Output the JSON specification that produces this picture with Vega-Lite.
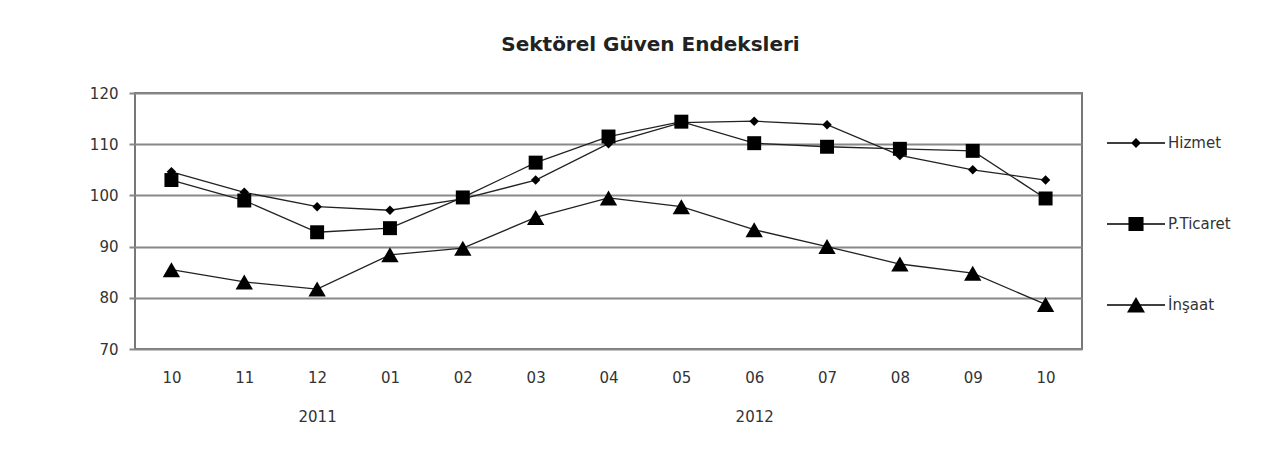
{
  "$schema": "https://vega.github.io/schema/vega-lite/v6.json",
  "autosize": {"type": "none"},
  "padding": {"left": 135, "top": 93, "right": 205, "bottom": 110},
  "width": 947,
  "height": 256,
  "background": "white",
  "title": {
    "text": "Sektörel Güven Endeksleri",
    "font": "DejaVu Sans",
    "fontSize": 20,
    "fontWeight": "bold",
    "color": "#222",
    "anchor": "middle",
    "dx": 42,
    "offset": 31
  },
  "config": {
    "view": {"stroke": "#777", "strokeWidth": 2},
    "font": "DejaVu Sans"
  },
  "data": {
    "values": [
      {"period": "10/2011", "series": "Hizmet", "value": 104.6},
      {"period": "11/2011", "series": "Hizmet", "value": 100.6},
      {"period": "12/2011", "series": "Hizmet", "value": 97.8},
      {"period": "01/2012", "series": "Hizmet", "value": 97.1},
      {"period": "02/2012", "series": "Hizmet", "value": 99.3},
      {"period": "03/2012", "series": "Hizmet", "value": 103.0},
      {"period": "04/2012", "series": "Hizmet", "value": 110.1},
      {"period": "05/2012", "series": "Hizmet", "value": 114.2},
      {"period": "06/2012", "series": "Hizmet", "value": 114.5},
      {"period": "07/2012", "series": "Hizmet", "value": 113.8},
      {"period": "08/2012", "series": "Hizmet", "value": 107.8},
      {"period": "09/2012", "series": "Hizmet", "value": 105.0},
      {"period": "10/2012", "series": "Hizmet", "value": 103.0},
      {"period": "10/2011", "series": "P.Ticaret", "value": 103.0},
      {"period": "11/2011", "series": "P.Ticaret", "value": 99.0},
      {"period": "12/2011", "series": "P.Ticaret", "value": 92.8},
      {"period": "01/2012", "series": "P.Ticaret", "value": 93.6},
      {"period": "02/2012", "series": "P.Ticaret", "value": 99.6},
      {"period": "03/2012", "series": "P.Ticaret", "value": 106.4},
      {"period": "04/2012", "series": "P.Ticaret", "value": 111.5},
      {"period": "05/2012", "series": "P.Ticaret", "value": 114.4},
      {"period": "06/2012", "series": "P.Ticaret", "value": 110.2},
      {"period": "07/2012", "series": "P.Ticaret", "value": 109.5},
      {"period": "08/2012", "series": "P.Ticaret", "value": 109.1},
      {"period": "09/2012", "series": "P.Ticaret", "value": 108.7},
      {"period": "10/2012", "series": "P.Ticaret", "value": 99.4},
      {"period": "10/2011", "series": "İnşaat", "value": 85.5},
      {"period": "11/2011", "series": "İnşaat", "value": 83.1},
      {"period": "12/2011", "series": "İnşaat", "value": 81.7},
      {"period": "01/2012", "series": "İnşaat", "value": 88.4},
      {"period": "02/2012", "series": "İnşaat", "value": 89.7},
      {"period": "03/2012", "series": "İnşaat", "value": 95.7},
      {"period": "04/2012", "series": "İnşaat", "value": 99.5},
      {"period": "05/2012", "series": "İnşaat", "value": 97.8},
      {"period": "06/2012", "series": "İnşaat", "value": 93.3},
      {"period": "07/2012", "series": "İnşaat", "value": 90.0},
      {"period": "08/2012", "series": "İnşaat", "value": 86.6},
      {"period": "09/2012", "series": "İnşaat", "value": 84.8},
      {"period": "10/2012", "series": "İnşaat", "value": 78.7}
    ]
  },
  "encoding": {
    "x": {
      "field": "period",
      "type": "ordinal",
      "sort": null,
      "scale": {"type": "point", "padding": 0.5},
      "axis": {
        "title": null,
        "domain": false,
        "ticks": false,
        "grid": false,
        "labelAngle": 0,
        "labelPadding": 21,
        "labelFontSize": 15,
        "labelColor": "#333",
        "labelLineHeight": 39,
        "labelExpr": "datum.value == '12/2011' ? [split(datum.value,'/')[0], '2011'] : datum.value == '06/2012' ? [split(datum.value,'/')[0], '2012'] : split(datum.value,'/')[0]"
      }
    },
    "y": {
      "field": "value",
      "type": "quantitative",
      "scale": {"domain": [70, 120], "nice": false, "zero": false},
      "axis": {
        "title": null,
        "domain": false,
        "values": [70, 80, 90, 100, 110, 120],
        "ticks": true,
        "tickSize": 6,
        "tickColor": "#888",
        "tickWidth": 2,
        "grid": true,
        "gridColor": "#888",
        "gridWidth": 2,
        "gridOpacity": 1,
        "labelPadding": 11,
        "labelFontSize": 15,
        "labelColor": "#333"
      }
    }
  },
  "layer": [
    {
      "mark": {"type": "line", "color": "#222", "strokeWidth": 1.3},
      "encoding": {"detail": {"field": "series"}}
    },
    {
      "mark": {"type": "point", "filled": true, "color": "#000", "opacity": 1},
      "encoding": {
        "shape": {
          "field": "series",
          "scale": {"domain": ["Hizmet", "P.Ticaret", "İnşaat"], "range": ["diamond", "square", "triangle-up"]},
          "legend": null
        },
        "size": {
          "field": "series",
          "type": "nominal",
          "scale": {"domain": ["Hizmet", "P.Ticaret", "İnşaat"], "range": [90, 300, 330]},
          "legend": null
        }
      }
    },
    {
      "mark": {"type": "point", "filled": true, "color": "#000", "opacity": 0},
      "encoding": {
        "shape": {
          "field": "series",
          "scale": {
            "domain": ["Hizmet", "P.Ticaret", "İnşaat"],
            "range": [
              "M-1,-0.025H1V0.025H-1ZM0,-0.17L0.17,0L0,0.17L-0.17,0Z",
              "M-1,-0.025H1V0.025H-1ZM-0.26,-0.24H0.26V0.24H-0.26Z",
              "M-1,-0.025H1V0.025H-1ZM0,-0.28L0.31,0.26H-0.31Z"
            ]
          },
          "legend": {
            "title": null,
            "orient": "none",
            "legendX": 972,
            "legendY": 21,
            "padding": 0,
            "symbolSize": 3364,
            "symbolOpacity": 1,
            "symbolFillColor": "#000",
            "symbolStrokeWidth": 0,
            "rowPadding": 44,
            "labelOffset": 3,
            "labelFont": "DejaVu Sans",
            "labelFontSize": 15,
            "labelColor": "#333",
            "labelLimit": 200,
            "encode": {
              "symbols": {
                "update": {
                  "opacity": {"value": 1},
                  "fill": {"value": "#111"},
                  "strokeWidth": {"value": 0},
                  "size": {"value": 3364}
                }
              }
            }
          }
        }
      }
    }
  ],
  "resolve": {"scale": {"shape": "independent"}, "legend": {"shape": "independent"}}
}
